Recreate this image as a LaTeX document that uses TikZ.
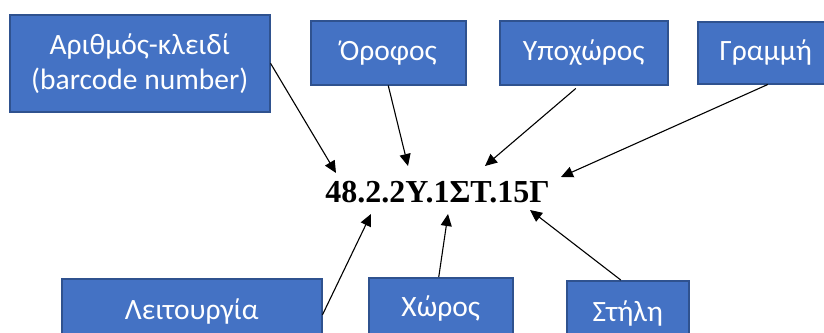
\documentclass[tikz,border=0pt]{standalone}
\usepackage{fontspec}
\setmainfont{Carlito}
\newfontfamily\codefont{Liberation Serif}
\usetikzlibrary{arrows.meta}
\definecolor{boxfill}{HTML}{4472C4}
\definecolor{boxline}{HTML}{2F528F}
\tikzset{
  box/.style={draw=boxline, line width=1.5pt, fill=boxfill, text=white,
    font=\fontsize{29.5}{35}\selectfont, align=center, inner sep=0pt, anchor=north west},
  arr/.style={-{Triangle[length=12pt,width=11pt]}, line width=1.1pt, black}
}
\begin{document}
\begin{tikzpicture}[x=1pt,y=-1pt]
\clip (0,0) rectangle (824,332);
\fill[white] (0,0) rectangle (824,332);
\node[box, minimum width=260pt, minimum height=97pt] (key) at (9,14) {Αριθμός-κλειδί\\(barcode number)};
\node[box, minimum width=155pt, minimum height=64pt] (floor) at (310,20) {Όροφος};
\node[box, minimum width=168pt, minimum height=64pt] (subspace) at (499,20) {Υποχώρος};
\node[box, minimum width=136pt, minimum height=62pt] (row) at (697,21) {Γραμμή};
\node[box, minimum width=260pt, minimum height=66pt] (func) at (61,278) {Λειτουργία};
\node[box, minimum width=144pt, minimum height=62pt] (space) at (368,277) {Χώρος};
\node[box, minimum width=122pt, minimum height=66pt] (column) at (566,280) {Στήλη};
\node[anchor=base, inner sep=0pt, font=\codefont\bfseries\fontsize{32}{38}\selectfont] (code) at (437.5,202) {48.2.2Υ.1ΣΤ.15Γ};
\coordinate (tkey) at (336,173);
\coordinate (tfloor) at (408,166);
\coordinate (tsub) at (485,166);
\coordinate (trow) at (561,177);
\coordinate (tfunc) at (371,214);
\coordinate (tspace) at (448,214);
\coordinate (tcol) at (530,210);
\draw[arr] (key.east) -- (tkey);
\draw[arr] (floor.south) -- (tfloor);
\draw[arr] ([xshift=-8pt,yshift=-3pt]subspace.south) -- (tsub);
\draw[arr] ([xshift=2pt]row.south) -- (trow);
\draw[arr] ([yshift=-3pt]func.east) -- (tfunc);
\draw[arr] ([xshift=-2pt]space.north) -- (tspace);
\draw[arr] ([xshift=-7pt]column.north) -- (tcol);
\end{tikzpicture}
\end{document}
